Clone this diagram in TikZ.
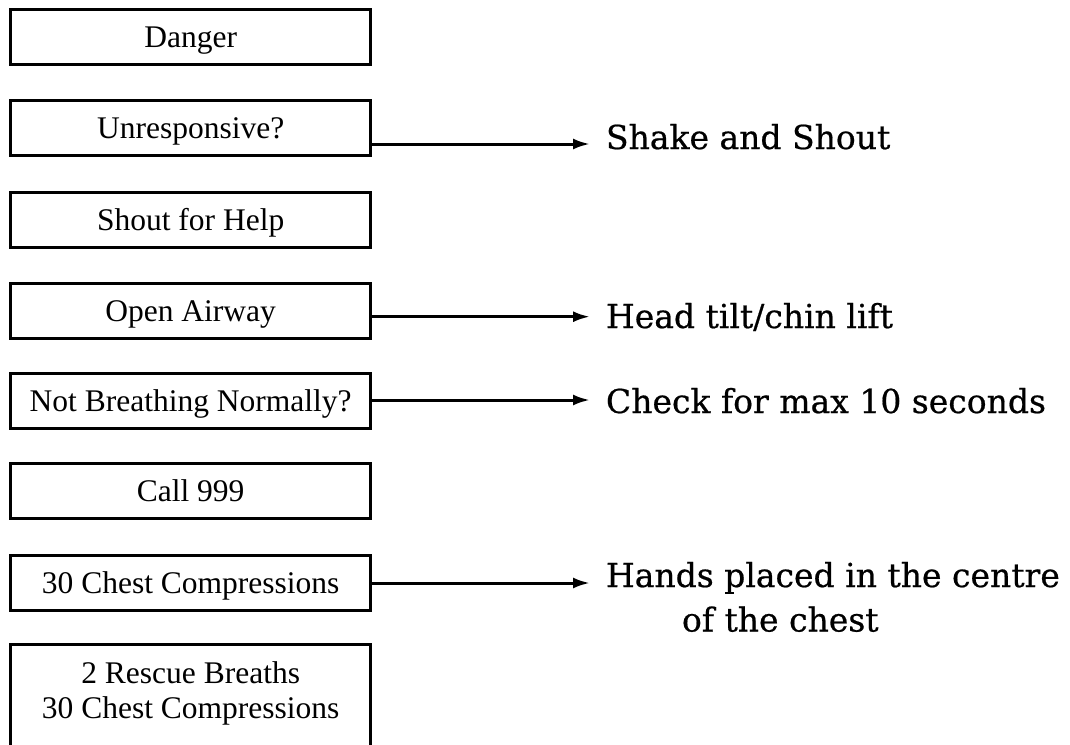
\documentclass[tikz,border=0pt]{standalone}
\usepackage{fontspec}
\setmainfont{Liberation Serif}
\newfontfamily\slabfont[FakeBold=0.6]{DejaVu Serif}
\usetikzlibrary{arrows.meta}
\begin{document}
\begin{tikzpicture}[x=1pt,y=-1pt,
  stepbox/.style={draw, line width=3pt, minimum width=359.7pt, minimum height=55.2pt,
    inner sep=0pt, font=\fontsize{31.5}{36}\selectfont, text height=20.8pt, text depth=0pt},
  lbl/.style={inner sep=0pt, font=\fontsize{31.5}{36}\selectfont, anchor=base},
  note/.style={inner xsep=16pt, inner ysep=0pt, outer sep=0pt, anchor=base west,
    font=\slabfont\fontsize{33}{45}\selectfont},
  note2/.style={inner sep=0pt, outer sep=0pt, anchor=base west,
    font=\slabfont\fontsize{33}{45}\selectfont},
  arr/.style={line width=3pt, -{Latex[length=17pt,width=11pt]}}]
\useasboundingbox (0,0) rectangle (1070,744);
\clip (0,0) rectangle (1070,744);

\node[stepbox] (b1) at (190.65,37.1) {Danger};
\node[stepbox] (b2) at (190.65,127.8) {Unresponsive?};
\node[stepbox] (b3) at (190.65,219.7) {Shout for Help};
\node[stepbox] (b4) at (190.65,310.9) {Open Airway};
\node[stepbox] (b5) at (190.65,400.8) {Not Breathing Normally?};
\node[stepbox] (b6) at (190.65,491.3) {Call 999};
\node[stepbox] (b7) at (190.65,583.0) {30 Chest Compressions};
\node[stepbox, minimum height=140pt, anchor=north] (b8) at (190.65,643.2) {};
\node[lbl] (b8a) at (190.65,683) {2 Rescue Breaths};
\node[lbl] (b8b) at (190.65,718.5) {30 Chest Compressions};

\node[note] (t2) at (590,149) {Shake and Shout};
\node[note] (t4) at (590,328) {Head tilt/chin lift};
\node[note] (t5) at (590,413) {Check for max 10 seconds};
\node[note] (t7) at (590,587) {Hands placed in the centre};
\node[note2] (t7b) at (682,631.5) {of the chest};

\draw[arr] (b2.east |- 0,144) -- (t2.west |- 0,144);
\draw[arr] (b4.east |- 0,316.7) -- (t4.west |- 0,316.7);
\draw[arr] (b5.east |- 0,400) -- (t5.west |- 0,400);
\draw[arr] (b7.east |- 0,583) -- (t7.west |- 0,583);
\end{tikzpicture}
\end{document}
